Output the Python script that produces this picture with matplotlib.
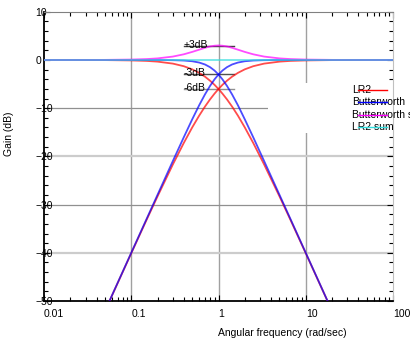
import matplotlib
matplotlib.use("Agg")
import matplotlib.pyplot as plt
from matplotlib.patches import Rectangle
from matplotlib.ticker import LogLocator, MultipleLocator, NullFormatter

plt.rcParams.update({
    "font.family": ["Liberation Sans", "DejaVu Sans"],
    "font.size": 7.5,
})

# angular frequency (rad/sec) and gain (dB)
freq = [0.01, 0.02, 0.05, 0.1, 0.15, 0.2, 0.3, 0.4, 0.5, 0.6, 0.7, 0.8, 0.9, 1.0,
        1.11, 1.25, 1.43, 1.67, 2.0, 2.5, 3.33, 5.0, 6.67, 10.0, 20.0, 50.0, 100.0]
lr2_low = [0, 0, -0.02, -0.09, -0.19, -0.34, -0.75, -1.29, -1.94, -2.67, -3.46, -4.30, -5.15, -6.02,
           -6.98, -8.17, -9.66, -11.55, -13.98, -17.21, -21.66, -28.30, -33.15, -40.09, -52.06, -67.96, -80.0]
lr2_high = [-80.0, -67.96, -52.06, -40.09, -33.15, -28.30, -21.66, -17.21, -13.98, -11.55, -9.66, -8.17, -6.98, -6.02,
            -5.15, -4.30, -3.46, -2.67, -1.94, -1.29, -0.75, -0.34, -0.19, -0.09, -0.02, 0, 0]
bw_low = [0, 0, 0, 0, 0, -0.01, -0.04, -0.11, -0.26, -0.53, -0.93, -1.49, -2.19, -3.01,
          -4.02, -5.37, -7.13, -9.40, -12.30, -16.03, -20.95, -27.97, -32.96, -40.00, -52.04, -67.96, -80.0]
bw_high = [-80.0, -67.96, -52.04, -40.00, -32.96, -27.97, -20.95, -16.03, -12.30, -9.40, -7.13, -5.37, -4.02, -3.01,
           -2.19, -1.49, -0.93, -0.53, -0.26, -0.11, -0.04, -0.01, 0, 0, 0, 0, 0]
bw_sum = [0, 0, 0.02, 0.09, 0.19, 0.33, 0.71, 1.18, 1.68, 2.14, 2.53, 2.81, 2.96, 3.01,
          2.96, 2.81, 2.53, 2.14, 1.68, 1.18, 0.71, 0.33, 0.19, 0.09, 0.02, 0, 0]
lr2_sum = [0] * len(freq)

marker_levels = [3, -3, -6]
marker_labels = ["+3dB", "-3dB", "-6dB"]
marker_span = [0.4, 1.49]

legend_names = ["LR2", "Butterworth", "Butterworth sum", "LR2 sum"]

RED = "#ff0000"
BLUE = "#0000ff"
MAGENTA = "#ff00ff"
CYAN = "#33dddd"
legend_colors = [RED, BLUE, MAGENTA, CYAN]

W, H = 410, 342
fig = plt.figure(figsize=(W / 100 + 1e-4, H / 100 + 1e-4), dpi=100)
ax_h = 289.2
ax = fig.add_axes([44 / W, 41 / H, 349 / W, ax_h / H])
ax.set_xscale("log")
ax.set_xlim(0.01, 100)
ax.set_ylim(-50, 10)

# grid (drawn by hand, the reference uses two shades)
for xv in [0.1, 1, 10]:
    ax.axvline(xv, color="#a0a0a0", lw=1.0, zorder=1)
for yv, col, lw in [(-10, "#909090", 0.9), (-20, "#cccccc", 1.6),
                    (-30, "#909090", 0.9), (-40, "#cccccc", 1.6)]:
    ax.axhline(yv, color=col, lw=lw, zorder=1)

# white key box hides the grid behind the labels
ax.add_patch(Rectangle((224 / 349, (301 - 133) / ax_h), 1.0, 50 / ax_h, transform=ax.transAxes,
                       facecolor="white", edgecolor="none", zorder=2, clip_on=False))

# level markers
for lvl, lab, col in zip(marker_levels, marker_labels, ["#404040", "#505050", "#909090"]):
    ax.plot(marker_span, [lvl, lvl], color=col, lw=1.0, zorder=3)
    ax.text(marker_span[0], lvl + 0.2, lab, ha="left", va="center", zorder=6)

a = 0.7
lw = 1.3
ax.plot(freq, lr2_low, color=RED, lw=lw, alpha=a, zorder=4)
ax.plot(freq, lr2_high, color=RED, lw=lw, alpha=a, zorder=4)
ax.plot(freq, bw_low, color=BLUE, lw=lw, alpha=a, zorder=4)
ax.plot(freq, bw_high, color=BLUE, lw=lw, alpha=a, zorder=4)
ax.plot(freq, bw_sum, color=MAGENTA, lw=lw, alpha=a, zorder=4)
ax.plot(freq, lr2_sum, color=CYAN, lw=lw, alpha=a, zorder=4)

# key, gnuplot style: sample line sits over the label
for i, (name, col) in enumerate(zip(legend_names, legend_colors)):
    yk = (301 - (90 + 12.4 * i)) / ax_h
    ax.text(308 / 349, yk, name, transform=ax.transAxes, ha="left", va="center",
            fontsize=7.5, clip_on=False, zorder=7)
    ax.plot([314 / 349, 343 / 349], [yk, yk], transform=ax.transAxes, color=col,
            lw=1.0, clip_on=False, zorder=8)

# axes frame
for side in ["left", "bottom"]:
    ax.spines[side].set_color("black")
    ax.spines[side].set_linewidth(1.3)
ax.spines["top"].set_color("#808080")
ax.spines["top"].set_linewidth(0.8)
ax.spines["right"].set_color("#c0c0c0")
ax.spines["right"].set_linewidth(0.8)

ax.set_xticks([0.01, 0.1, 1, 10, 100])
ax.set_xticklabels(["0.01", "0.1", "1", "10", "100"])
ax.xaxis.set_minor_locator(LogLocator(base=10, subs=range(2, 10)))
ax.xaxis.set_minor_formatter(NullFormatter())
ax.yaxis.set_major_locator(MultipleLocator(10))
ax.yaxis.set_minor_locator(MultipleLocator(2))
ax.tick_params(which="both", direction="in", top=True, right=True, colors="black", width=0.8)
ax.tick_params(which="major", length=4)
ax.tick_params(which="minor", length=3)
ax.tick_params(axis="x", pad=6)
ax.tick_params(axis="y", pad=6)
for t in ax.get_xticklabels():
    t.set_ha("left")
for t in ax.get_yticklabels():
    t.set_ha("left")
for tk in ax.yaxis.get_major_ticks() + ax.yaxis.get_minor_ticks():
    tk.tick2line.set_color("#909090")
for tk in ax.xaxis.get_major_ticks() + ax.xaxis.get_minor_ticks():
    tk.tick2line.set_color("#606060")

fig.text(218 / W, 1 - 333 / H, "Angular frequency (rad/sec)", ha="left", va="center")
fig.text(9 / W, 1 - 156 / H, "Gain (dB)", rotation=90, ha="center", va="bottom")

fig.savefig("out.png", dpi=100)
